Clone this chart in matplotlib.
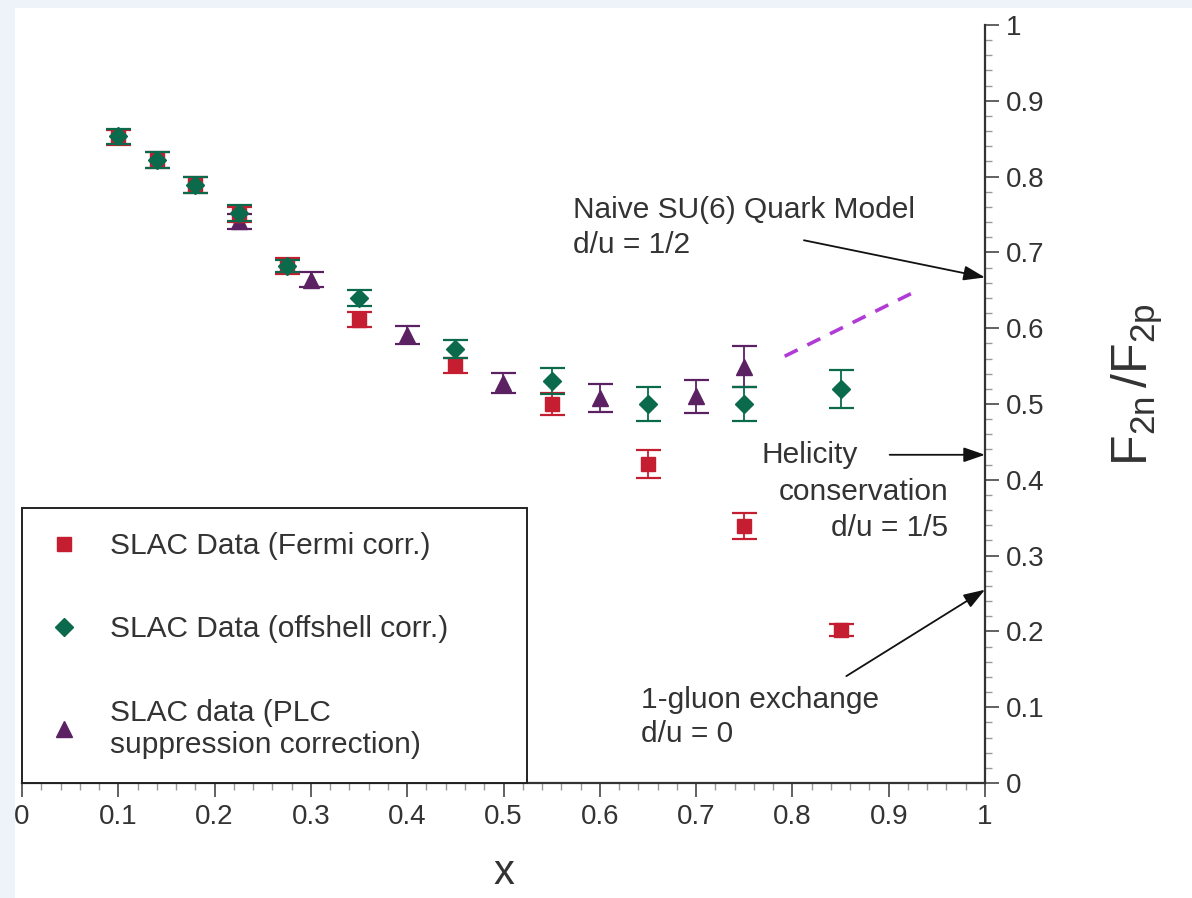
import matplotlib
matplotlib.use("Agg")
import matplotlib.pyplot as plt
from matplotlib.lines import Line2D
from matplotlib.ticker import MultipleLocator, FuncFormatter
from matplotlib.patches import Rectangle

plt.rcParams['font.family'] = ['Liberation Sans', 'DejaVu Sans']
plt.rcParams['mathtext.fontset'] = 'custom'
plt.rcParams['mathtext.rm'] = 'Liberation Sans'
plt.rcParams['mathtext.it'] = 'Liberation Sans'

# ---- data ----
fermi_x = [0.10, 0.14, 0.18, 0.225, 0.275, 0.35, 0.45, 0.55, 0.65, 0.75, 0.85]
fermi_y = [0.852, 0.822, 0.789, 0.750, 0.682, 0.611, 0.551, 0.500, 0.421, 0.339, 0.202]
fermi_e = [0.010, 0.010, 0.010, 0.010, 0.010, 0.010, 0.010, 0.015, 0.018, 0.017, 0.008]

offs_x = [0.10, 0.14, 0.18, 0.225, 0.275, 0.35, 0.45, 0.55, 0.65, 0.75, 0.85]
offs_y = [0.853, 0.822, 0.789, 0.752, 0.682, 0.640, 0.573, 0.530, 0.500, 0.500, 0.520]
offs_e = [0.010, 0.010, 0.010, 0.010, 0.008, 0.011, 0.012, 0.017, 0.022, 0.022, 0.025]

plc_x = [0.225, 0.30, 0.40, 0.50, 0.60, 0.70, 0.75]
plc_y = [0.741, 0.664, 0.591, 0.528, 0.508, 0.510, 0.549]
plc_e = [0.010, 0.010, 0.012, 0.013, 0.019, 0.022, 0.027]

trend_x = [0.792, 0.927]
trend_y = [0.563, 0.648]

labels = ['SLAC Data (Fermi corr.)', 'SLAC Data (offshell corr.)',
          'SLAC data (PLC\nsuppression correction)']

red = '#c41e30'
green = '#0b6a4c'
purple = '#5b2163'
magenta = '#b13bd6'
txt = '#333333'

fig = plt.figure(figsize=(11.92, 8.98), dpi=100, facecolor='#eef2f9')
fig.patches.append(Rectangle((15/1192, 0), 1 - 15/1192, 1 - 8/898,
                             transform=fig.transFigure, facecolor='white',
                             edgecolor='none', zorder=-10))
ax = fig.add_axes([22/1192, 1 - 783/898, (985 - 22)/1192, (783 - 25)/898])
ax.set_facecolor('white')
ax.set_xlim(0, 1)
ax.set_ylim(0, 1)

ekw = dict(linestyle='none', elinewidth=1.3, capthick=1.6, capsize=9)
ax.errorbar(plc_x, plc_y, yerr=plc_e, marker='^', ms=12, color=purple, ecolor=purple, zorder=3, **ekw)
ax.errorbar(fermi_x, fermi_y, yerr=fermi_e, marker='s', ms=10.5, color=red, ecolor=red, zorder=4, **ekw)
ax.errorbar(offs_x, offs_y, yerr=offs_e, marker='D', ms=9, color=green, ecolor=green, zorder=5, **ekw)

ax.plot(trend_x, trend_y, linestyle=(0, (4, 3)), color=magenta, lw=2.6, zorder=2)

# spines
for s in ['left', 'top']:
    ax.spines[s].set_visible(False)
for s in ['right', 'bottom']:
    ax.spines[s].set_linewidth(1.6)
    ax.spines[s].set_color('#333333')

ax.yaxis.tick_right()
ax.yaxis.set_label_position('right')
ax.xaxis.set_major_locator(MultipleLocator(0.1))
ax.xaxis.set_minor_locator(MultipleLocator(0.02))
ax.yaxis.set_major_locator(MultipleLocator(0.1))
ax.yaxis.set_minor_locator(MultipleLocator(0.02))
fmt = FuncFormatter(lambda v, p: '0' if abs(v) < 1e-9 else ('1' if abs(v - 1) < 1e-9 else f'{v:.1f}'))
ax.xaxis.set_major_formatter(fmt)
ax.yaxis.set_major_formatter(fmt)
ax.tick_params(which='major', direction='out', length=10, width=1.3, color='#555555',
               labelsize=20, labelcolor=txt, pad=5)
ax.tick_params(which='minor', direction='out', length=5, width=1.0, color='#999999')

ax.set_xlabel('x', fontsize=30, color=txt, labelpad=17)
ax.set_ylabel(r'$\mathrm{F_{2n}\,/F_{2p}}$', fontsize=36, color=txt, rotation=90)
ax.yaxis.set_label_coords(1.13, 0.525)

# annotations
akw = dict(arrowstyle='-|>,head_length=1.3,head_width=0.45', color='#111111', lw=1.3,
           shrinkA=0, shrinkB=0)
ax.annotate('', xy=(1.0, 0.667), xytext=(0.812, 0.716), xycoords='data', arrowprops=akw, annotation_clip=False)
ax.annotate('', xy=(1.0, 0.433), xytext=(0.901, 0.433), xycoords='data', arrowprops=akw, annotation_clip=False)
ax.annotate('', xy=(1.0, 0.255), xytext=(0.856, 0.141), xycoords='data', arrowprops=akw, annotation_clip=False)

fs = 21.5
ax.text(0.572, 0.733, 'Naive SU(6) Quark Model\nd/u = 1/2', fontsize=fs, color=txt,
        ha='left', va='center', linespacing=1.3)
ax.text(0.768, 0.433, 'Helicity', fontsize=fs, color=txt, ha='left', va='center')
ax.text(0.962, 0.384, 'conservation', fontsize=fs, color=txt, ha='right', va='center')
ax.text(0.962, 0.336, 'd/u = 1/5', fontsize=fs, color=txt, ha='right', va='center')
ax.text(0.643, 0.087, '1-gluon exchange\nd/u = 0', fontsize=fs, color=txt,
        ha='left', va='center', linespacing=1.3)

handles = [Line2D([], [], linestyle='none', marker='s', ms=10.5, color=red),
           Line2D([], [], linestyle='none', marker='D', ms=9, color=green),
           Line2D([], [], linestyle='none', marker='^', ms=12, color=purple)]
leg = ax.legend(handles, labels, loc='lower left', bbox_to_anchor=(0, 0, 0.5244, 0.365),
                mode='expand', fontsize=fs,
                frameon=True, fancybox=False, borderpad=0.8, labelspacing=1.85,
                handlelength=1.2, handletextpad=0.95, borderaxespad=0, labelcolor=txt)
leg.get_frame().set_edgecolor('#222222')
leg.get_frame().set_linewidth(1.4)
leg.get_frame().set_alpha(1)

fig.savefig('out.png', dpi=100, facecolor=fig.get_facecolor())
